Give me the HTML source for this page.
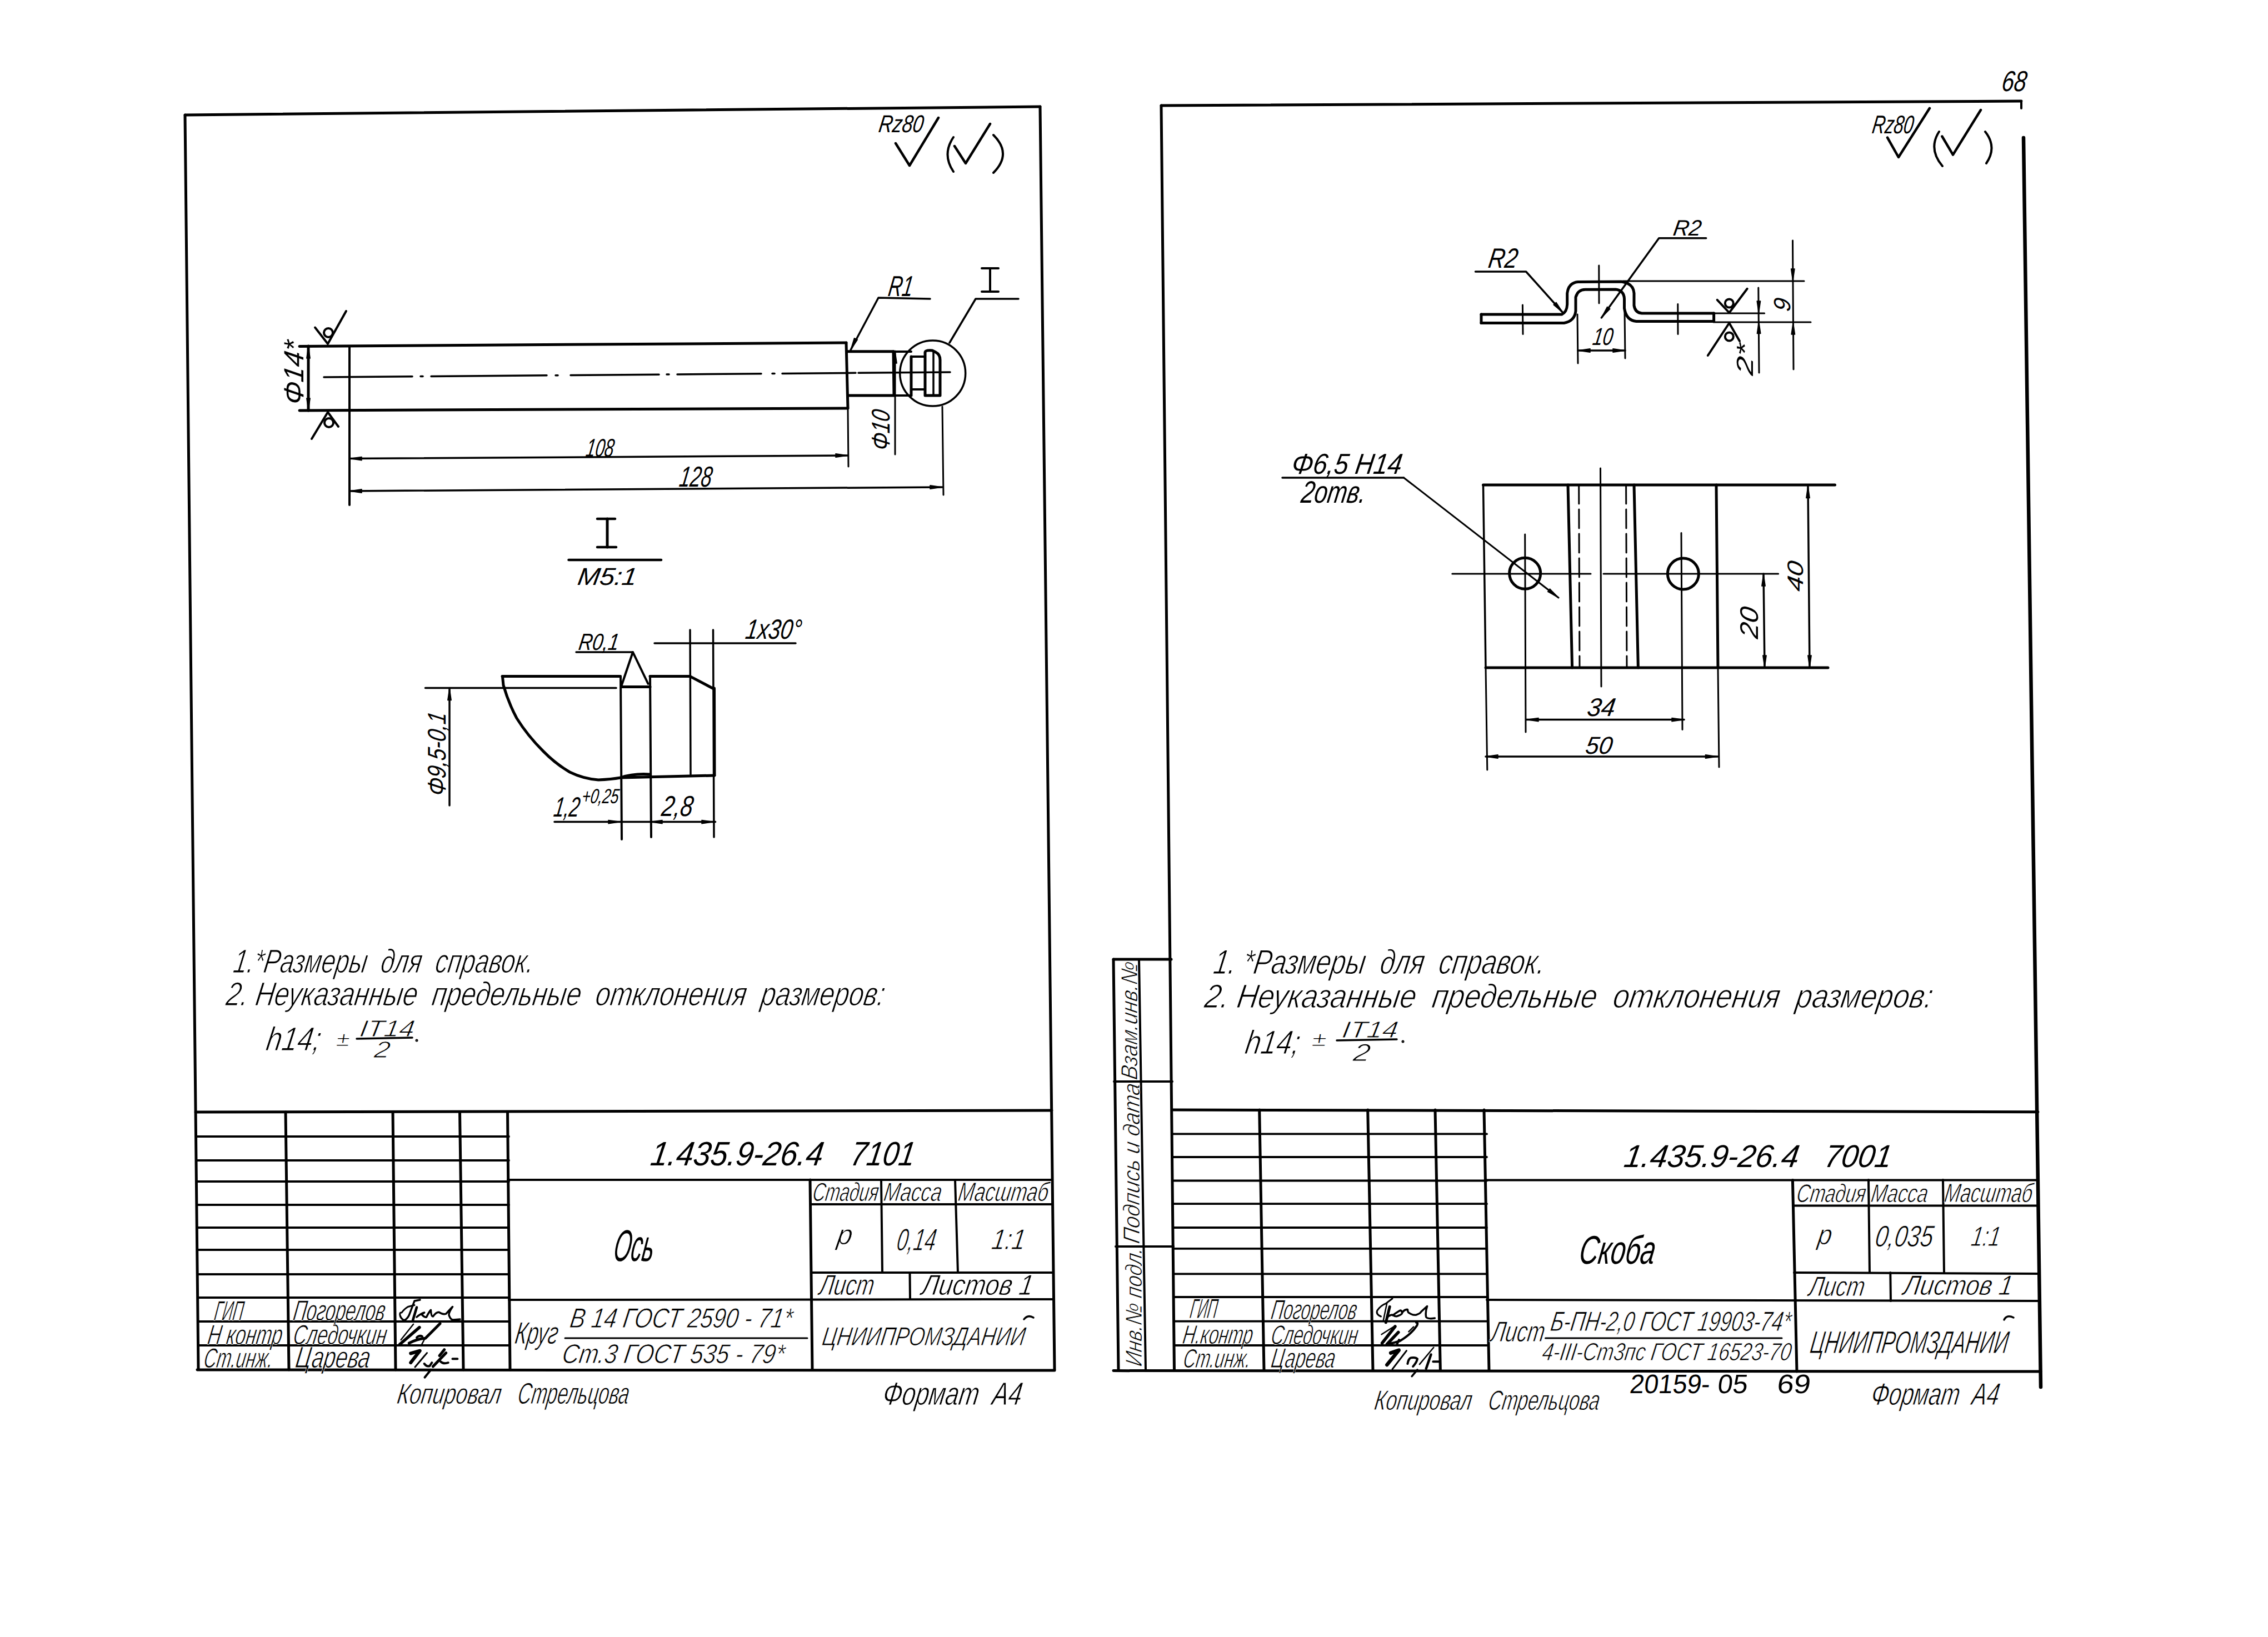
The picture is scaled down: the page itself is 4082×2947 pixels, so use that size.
<!DOCTYPE html>
<html><head><meta charset="utf-8"><style>
html,body{margin:0;padding:0;background:#fff;overflow:hidden;}
svg{display:block;}
text{stroke:none;paint-order:normal;font-family:"Liberation Sans",sans-serif;}
</style></head><body>
<svg width="4082" height="2947" viewBox="0 0 4082 2947">
<rect width="4082" height="2947" fill="#fff"/>
<g stroke="#000" stroke-linecap="round" stroke-linejoin="round" font-family="Liberation Sans, sans-serif" fill="#000">
<line x1="333" y1="207" x2="1872" y2="192" stroke-width="5"/>
<line x1="1872" y1="192" x2="1898" y2="2466" stroke-width="5"/>
<line x1="333" y1="207" x2="357" y2="2465" stroke-width="5"/>
<line x1="355" y1="2466" x2="1898" y2="2467" stroke-width="5"/>
<line x1="352" y1="2002" x2="1893" y2="1999" stroke-width="5"/>
<line x1="352.484" y1="2046" x2="916" y2="2046" stroke-width="3.8"/>
<line x1="352.957" y1="2089" x2="916" y2="2089" stroke-width="3.8"/>
<line x1="353.375" y1="2127" x2="916" y2="2127" stroke-width="3.8"/>
<line x1="353.837" y1="2169" x2="916" y2="2169" stroke-width="3.8"/>
<line x1="354.288" y1="2210" x2="916" y2="2210" stroke-width="3.8"/>
<line x1="354.728" y1="2250" x2="916" y2="2250" stroke-width="3.8"/>
<line x1="355.212" y1="2294" x2="916" y2="2294" stroke-width="3.8"/>
<line x1="355.674" y1="2336" x2="916" y2="2336" stroke-width="3.8"/>
<line x1="356.147" y1="2379" x2="916" y2="2379" stroke-width="3.8"/>
<line x1="356.62" y1="2422" x2="916" y2="2422" stroke-width="3.8"/>
<line x1="514" y1="2002" x2="520" y2="2466" stroke-width="5"/>
<line x1="707" y1="2002" x2="712" y2="2466" stroke-width="5"/>
<line x1="827.5" y1="2002" x2="834" y2="2466" stroke-width="5"/>
<line x1="913.5" y1="2002" x2="918" y2="2466" stroke-width="5"/>
<line x1="914" y1="2124" x2="1894" y2="2124" stroke-width="4"/>
<line x1="916" y1="2340" x2="1896" y2="2339" stroke-width="4"/>
<line x1="1458" y1="2124" x2="1462" y2="2466" stroke-width="5"/>
<line x1="1459" y1="2168" x2="1894" y2="2168" stroke-width="4"/>
<line x1="1586" y1="2124" x2="1588" y2="2291" stroke-width="4"/>
<line x1="1719" y1="2124" x2="1724" y2="2291" stroke-width="4"/>
<line x1="1460" y1="2291" x2="1896" y2="2291" stroke-width="4"/>
<line x1="1637.5" y1="2291" x2="1638" y2="2339" stroke-width="4"/>
<line x1="1017" y1="2409" x2="1453" y2="2409" stroke-width="3"/>
<line x1="539" y1="623.5" x2="1523" y2="617" stroke-width="5"/>
<line x1="539" y1="739" x2="1526" y2="735" stroke-width="5"/>
<line x1="555" y1="623" x2="555" y2="739" stroke-width="5"/>
<line x1="629" y1="623" x2="629" y2="909" stroke-width="4"/>
<line x1="1523" y1="617" x2="1526" y2="735" stroke-width="5"/>
<line x1="1526" y1="735" x2="1527" y2="840" stroke-width="3"/>
<line x1="583" y1="679.0" x2="742" y2="677.728" stroke-width="3.5"/>
<line x1="776" y1="677.456" x2="984" y2="675.792" stroke-width="3.5"/>
<line x1="1027" y1="675.448" x2="1186" y2="674.176" stroke-width="3.5"/>
<line x1="1219" y1="673.912" x2="1370" y2="672.704" stroke-width="3.5"/>
<line x1="1408" y1="672.4" x2="1540" y2="671.344" stroke-width="3.5"/>
<line x1="1545" y1="671.304" x2="1710" y2="669.984" stroke-width="3.5"/>
<line x1="757" y1="677.608" x2="761" y2="677.608" stroke-width="3.5"/>
<line x1="1000" y1="675.664" x2="1004" y2="675.664" stroke-width="3.5"/>
<line x1="1200" y1="674.064" x2="1204" y2="674.064" stroke-width="3.5"/>
<line x1="1390" y1="672.544" x2="1394" y2="672.544" stroke-width="3.5"/>
<line x1="1526" y1="632.7" x2="1608" y2="632.7" stroke-width="5"/>
<line x1="1526" y1="712" x2="1608" y2="712" stroke-width="5"/>
<line x1="1608" y1="632.7" x2="1609" y2="712" stroke-width="5"/>
<line x1="1608" y1="633" x2="1640" y2="633" stroke-width="4"/>
<line x1="1608" y1="712" x2="1640" y2="712" stroke-width="4"/>
<line x1="1640" y1="642" x2="1640" y2="712" stroke-width="5"/>
<line x1="1640" y1="642" x2="1665" y2="642" stroke-width="4"/>
<line x1="1640" y1="701" x2="1665" y2="701" stroke-width="4"/>
<path d="M1665,712 L1665,634 Q1666,630 1678,631 L1684,634 Q1692,638 1692,648 L1692,712 Z" stroke-width="5" fill="none"/>
<line x1="1680" y1="633" x2="1680" y2="712" stroke-width="3.5"/>
<circle cx="1678.7" cy="672" r="59" stroke-width="3.5" fill="none"/>
<line x1="629" y1="825.6" x2="1526" y2="820" stroke-width="3.5"/>
<line x1="629" y1="884" x2="1696" y2="877" stroke-width="3.5"/>
<line x1="1696" y1="732" x2="1698" y2="891" stroke-width="3"/>
<path d="M629,825.6 L651.0,822.4 L651.0,828.8 Z" stroke-width="1.5" fill="#000"/>
<path d="M1526,820 L1504.0,823.2 L1504.0,816.8 Z" stroke-width="1.5" fill="#000"/>
<path d="M629,884 L651.0,880.8 L651.0,887.2 Z" stroke-width="1.5" fill="#000"/>
<path d="M1696,877 L1674.0,880.2 L1674.0,873.8 Z" stroke-width="1.5" fill="#000"/>
<text transform="translate(1053,822) skewX(-9)" font-size="46" font-style="italic" textLength="50" lengthAdjust="spacingAndGlyphs">108</text>
<text transform="translate(1221,876) skewX(-9)" font-size="52" font-style="italic" textLength="58" lengthAdjust="spacingAndGlyphs">128</text>
<path d="M555,623 L558.2,645.0 L551.8,645.0 Z" stroke-width="1.5" fill="#000"/>
<path d="M555,739 L551.8,717.0 L558.2,717.0 Z" stroke-width="1.5" fill="#000"/>
<text transform="translate(546,730) rotate(-90) skewX(-9)" font-size="50" font-style="italic" textLength="114" lengthAdjust="spacingAndGlyphs">Φ14*</text>
<line x1="1611" y1="632" x2="1611" y2="818" stroke-width="3"/>
<path d="M1611,632 L1614.2,654.0 L1607.8,654.0 Z" stroke-width="1.5" fill="#000"/>
<text transform="translate(1601,812) rotate(-90) skewX(-9)" font-size="46" font-style="italic" textLength="72" lengthAdjust="spacingAndGlyphs">Φ10</text>
<polyline points="567,589.5 590,619 623,560" stroke-width="4" fill="none"/>
<circle cx="591" cy="599" r="8" stroke-width="4" fill="none"/>
<polyline points="561,790 590,742 609,768" stroke-width="4" fill="none"/>
<circle cx="592" cy="761" r="8" stroke-width="4" fill="none"/>
<polyline points="1531,630 1581,536 1674,538" stroke-width="3.5" fill="none"/>
<path d="M1531,630 L1537.5,608.7 L1543.3,611.5 Z" stroke-width="1.5" fill="#000"/>
<text transform="translate(1597,533) skewX(-9)" font-size="52" font-style="italic" textLength="44" lengthAdjust="spacingAndGlyphs">R1</text>
<polyline points="1709,617 1756,538 1833,538" stroke-width="3.5" fill="none"/>
<line x1="1767" y1="483" x2="1797" y2="483" stroke-width="4"/>
<line x1="1767" y1="525" x2="1797" y2="525" stroke-width="4"/>
<line x1="1782" y1="483" x2="1782" y2="525" stroke-width="4"/>
<text transform="translate(1580,238) skewX(-9)" font-size="44" font-style="italic" textLength="80" lengthAdjust="spacingAndGlyphs">Rz80</text>
<polyline points="1612,258 1637,298 1689,212" stroke-width="4.5" fill="none"/>
<path d="M1716,247 Q1695,278 1716,309" stroke-width="4" fill="none"/>
<polyline points="1718,263 1738,294 1782,223" stroke-width="4.5" fill="none"/>
<path d="M1788,243 Q1822,277 1788,311" stroke-width="4" fill="none"/>
<line x1="1075" y1="934" x2="1107" y2="934" stroke-width="4.5"/>
<line x1="1075" y1="985" x2="1109" y2="985" stroke-width="4.5"/>
<line x1="1093" y1="934" x2="1093" y2="985" stroke-width="5"/>
<line x1="1023.5" y1="1008" x2="1190" y2="1008" stroke-width="4.5"/>
<text transform="translate(1038,1053) skewX(-9)" font-size="44" font-style="italic" textLength="106" lengthAdjust="spacingAndGlyphs">М5:1</text>
<text transform="translate(1040,1170) skewX(-9)" font-size="42" font-style="italic" textLength="72" lengthAdjust="spacingAndGlyphs">R0,1</text>
<line x1="1037" y1="1174" x2="1139" y2="1174" stroke-width="3.5"/>
<polyline points="1119,1233 1139,1174 1166.5,1231" stroke-width="4" fill="none"/>
<line x1="1178" y1="1158" x2="1432" y2="1158" stroke-width="3.5"/>
<text transform="translate(1340,1150) skewX(-9)" font-size="50" font-style="italic" textLength="100" lengthAdjust="spacingAndGlyphs">1x30°</text>
<line x1="1242" y1="1134" x2="1243" y2="1394" stroke-width="3.5"/>
<line x1="1283.5" y1="1134" x2="1285" y2="1507" stroke-width="3.5"/>
<line x1="904" y1="1217.6" x2="1115" y2="1217.6" stroke-width="5"/>
<line x1="1117" y1="1217" x2="1119" y2="1511" stroke-width="4"/>
<line x1="1119" y1="1236.6" x2="1170" y2="1236.6" stroke-width="5"/>
<line x1="1170" y1="1217" x2="1172" y2="1507" stroke-width="4"/>
<line x1="1170" y1="1217.6" x2="1242" y2="1217.6" stroke-width="5"/>
<line x1="1242" y1="1217.6" x2="1283.5" y2="1239.5" stroke-width="5"/>
<line x1="1285.5" y1="1239" x2="1286" y2="1396" stroke-width="5"/>
<line x1="1117" y1="1400" x2="1286" y2="1396" stroke-width="5"/>
<path d="M904.4,1217.6 L906,1233.5 Q915,1265 930,1293 Q950,1325 978,1352.6 Q1000,1375 1025.5,1390 Q1050,1402 1077,1404 Q1100,1403 1117,1400 Q1140,1392 1170,1394" stroke-width="5" fill="none"/>
<line x1="765.5" y1="1238.6" x2="1109" y2="1238.6" stroke-width="3.5"/>
<line x1="809" y1="1238.6" x2="809" y2="1450" stroke-width="3.5"/>
<path d="M809,1238.6 L812.2,1260.6 L805.8,1260.6 Z" stroke-width="1.5" fill="#000"/>
<text transform="translate(802,1434) rotate(-90) skewX(-9)" font-size="46" font-style="italic" textLength="150" lengthAdjust="spacingAndGlyphs">Φ9,5-0,1</text>
<line x1="998" y1="1479.6" x2="1287.5" y2="1479.6" stroke-width="3.5"/>
<path d="M1117,1479.6 L1095.0,1482.8 L1095.0,1476.4 Z" stroke-width="1.5" fill="#000"/>
<path d="M1170,1479.6 L1192.0,1476.4 L1192.0,1482.8 Z" stroke-width="1.5" fill="#000"/>
<path d="M1285,1479.6 L1263.0,1482.8 L1263.0,1476.4 Z" stroke-width="1.5" fill="#000"/>
<text transform="translate(995,1470) skewX(-9)" font-size="50" font-style="italic" textLength="46" lengthAdjust="spacingAndGlyphs">1,2</text>
<text transform="translate(1046,1446) skewX(-9)" font-size="37" font-style="italic" textLength="66" lengthAdjust="spacingAndGlyphs">+0,25</text>
<text transform="translate(1189,1469) skewX(-9)" font-size="52" font-style="italic" textLength="56" lengthAdjust="spacingAndGlyphs">2,8</text>
<text transform="translate(418,1751) skewX(-9)" font-size="60" font-style="italic" style="stroke:#fff;stroke-width:1.2px" textLength="540" lengthAdjust="spacingAndGlyphs">1.*Размеры  для  справок.</text>
<text transform="translate(405,1810) skewX(-9)" font-size="60" font-style="italic" style="stroke:#fff;stroke-width:1.2px" textLength="1185" lengthAdjust="spacingAndGlyphs">2. Неуказанные  предельные  отклонения  размеров:</text>
<text transform="translate(477,1891) skewX(-9)" font-size="60" font-style="italic" style="stroke:#fff;stroke-width:1.2px" textLength="98" lengthAdjust="spacingAndGlyphs">h14;</text>
<text transform="translate(604,1883) skewX(-9)" font-size="36" font-style="italic" style="stroke:#fff;stroke-width:0.9px" textLength="24" lengthAdjust="spacingAndGlyphs">±</text>
<text transform="translate(646,1866) skewX(-9)" font-size="42" font-style="italic" style="stroke:#fff;stroke-width:1px" textLength="98" lengthAdjust="spacingAndGlyphs">IT14</text>
<line x1="642" y1="1870" x2="742" y2="1868" stroke-width="3.5"/>
<text transform="translate(672,1904) skewX(-9)" font-size="42" font-style="italic" style="stroke:#fff;stroke-width:1px" textLength="28" lengthAdjust="spacingAndGlyphs">2</text>
<circle cx="750" cy="1873" r="1.5" stroke-width="2" fill="none"/>
<text transform="translate(1169,2098) skewX(-9)" font-size="61" font-style="italic" textLength="310" lengthAdjust="spacingAndGlyphs">1.435.9-26.4</text>
<text transform="translate(1529,2098) skewX(-9)" font-size="61" font-style="italic" textLength="115" lengthAdjust="spacingAndGlyphs">7101</text>
<text transform="translate(1102,2270) skewX(-9)" font-size="80" font-style="italic" textLength="72" lengthAdjust="spacingAndGlyphs">Ось</text>
<text transform="translate(1461,2162) skewX(-9)" font-size="47" font-style="italic" style="stroke:#fff;stroke-width:0.9px" textLength="118" lengthAdjust="spacingAndGlyphs">Стадия</text>
<text transform="translate(1589,2162) skewX(-9)" font-size="47" font-style="italic" style="stroke:#fff;stroke-width:0.9px" textLength="104" lengthAdjust="spacingAndGlyphs">Масса</text>
<text transform="translate(1723,2162) skewX(-9)" font-size="48" font-style="italic" style="stroke:#fff;stroke-width:0.9px" textLength="162" lengthAdjust="spacingAndGlyphs">Масштаб</text>
<text transform="translate(1505,2240) skewX(-9)" font-size="50" font-style="italic" style="stroke:#fff;stroke-width:0.9px" textLength="27" lengthAdjust="spacingAndGlyphs">р</text>
<text transform="translate(1612,2251) skewX(-9)" font-size="56" font-style="italic" style="stroke:#fff;stroke-width:0.9px" textLength="70" lengthAdjust="spacingAndGlyphs">0,14</text>
<text transform="translate(1783,2249) skewX(-9)" font-size="52" font-style="italic" style="stroke:#fff;stroke-width:0.9px" textLength="60" lengthAdjust="spacingAndGlyphs">1:1</text>
<text transform="translate(1473,2331) skewX(-9)" font-size="52" font-style="italic" style="stroke:#fff;stroke-width:0.9px" textLength="98" lengthAdjust="spacingAndGlyphs">Лист</text>
<text transform="translate(1657,2331) skewX(-9)" font-size="52" font-style="italic" style="stroke:#fff;stroke-width:0.9px" textLength="200" lengthAdjust="spacingAndGlyphs">Листов 1</text>
<text transform="translate(925,2419) skewX(-9)" font-size="56" font-style="italic" style="stroke:#fff;stroke-width:0.9px" textLength="77" lengthAdjust="spacingAndGlyphs">Круг</text>
<text transform="translate(1024,2390) skewX(-9)" font-size="50" font-style="italic" style="stroke:#fff;stroke-width:0.9px" textLength="400" lengthAdjust="spacingAndGlyphs">В 14 ГОСТ 2590 - 71*</text>
<text transform="translate(1010,2454) skewX(-9)" font-size="49" font-style="italic" style="stroke:#fff;stroke-width:0.9px" textLength="400" lengthAdjust="spacingAndGlyphs">Ст.3 ГОСТ 535 - 79*</text>
<text transform="translate(1478,2422) skewX(-9)" font-size="47" font-style="italic" style="stroke:#fff;stroke-width:0.9px" textLength="365" lengthAdjust="spacingAndGlyphs">ЦНИИПРОМЗДАНИИ</text>
<path d="M1843,2375 Q1850,2366 1860,2372" stroke-width="3.5" fill="none"/>
<text transform="translate(384,2377) skewX(-9)" font-size="50" font-style="italic" style="stroke:#fff;stroke-width:0.9px" textLength="52" lengthAdjust="spacingAndGlyphs">ГИП</text>
<text transform="translate(372,2420) skewX(-9)" font-size="50" font-style="italic" style="stroke:#fff;stroke-width:0.9px" textLength="134" lengthAdjust="spacingAndGlyphs">Н контр</text>
<text transform="translate(365,2462) skewX(-9)" font-size="50" font-style="italic" style="stroke:#fff;stroke-width:0.9px" textLength="124" lengthAdjust="spacingAndGlyphs">Ст.инж.</text>
<text transform="translate(526,2377) skewX(-9)" font-size="52" font-style="italic" style="stroke:#fff;stroke-width:0.9px" textLength="165" lengthAdjust="spacingAndGlyphs">Погорелов</text>
<text transform="translate(526,2420) skewX(-9)" font-size="50" font-style="italic" style="stroke:#fff;stroke-width:0.9px" textLength="168" lengthAdjust="spacingAndGlyphs">Следочкин</text>
<text transform="translate(530,2462) skewX(-9)" font-size="54" font-style="italic" style="stroke:#fff;stroke-width:0.9px" textLength="134" lengthAdjust="spacingAndGlyphs">Царева</text>
<text transform="translate(713,2527) skewX(-9)" font-size="52" font-style="italic" style="stroke:#fff;stroke-width:0.9px" textLength="187" lengthAdjust="spacingAndGlyphs">Копировал</text>
<text transform="translate(930,2527) skewX(-9)" font-size="54" font-style="italic" style="stroke:#fff;stroke-width:0.9px" textLength="200" lengthAdjust="spacingAndGlyphs">Стрельцова</text>
<text transform="translate(1587,2529) skewX(-9)" font-size="58" font-style="italic" style="stroke:#fff;stroke-width:0.9px" textLength="250" lengthAdjust="spacingAndGlyphs">Формат  А4</text>
<path d="M720.6,2370 Q725,2378 729.4,2376 Q735,2372 737.3,2365 L746,2342 L756,2340" stroke-width="3.5" fill="none"/>
<path d="M720.6,2370 Q718,2362 723,2363 Q728,2356 734.3,2352.5 L746,2349.5" stroke-width="3" fill="none"/>
<path d="M743,2377 L750,2353.5" stroke-width="4.5" fill="none"/>
<path d="M750,2371 Q757,2365 763.7,2363 Q757,2367 759.7,2367 Q764,2372 767.6,2371 Q772,2362 775.4,2358.3 Q776,2370 779.3,2370 Q785,2362 790,2362.3 Q797,2367 802.8,2365.2 Q810,2357 814.5,2352.5 Q806,2365 808.6,2369 Q811,2376 816,2376 L828,2375" stroke-width="3.5" fill="none"/>
<path d="M719.7,2420 L754.9,2389.6" stroke-width="5.5" fill="none"/>
<path d="M736.3,2418 Q752,2410 765.6,2409.2 Q780,2395 792,2382.8" stroke-width="5" fill="none"/>
<path d="M721.6,2412 L744.1,2383.8" stroke-width="2.5" fill="none"/>
<path d="M750,2408 Q755,2403 760,2406" stroke-width="4" fill="none"/>
<path d="M757.8,2422.9 L765,2409" stroke-width="2.5" fill="none"/>
<path d="M739.2,2436.5 L755.8,2431.7 L739.2,2453.2" stroke-width="6" fill="none"/>
<path d="M747,2461 L768.5,2435.6" stroke-width="3" fill="none"/>
<path d="M763.7,2455 Q768,2461 773.4,2459 L777.3,2453.2" stroke-width="4" fill="none"/>
<path d="M779.3,2460 L802.8,2435.6" stroke-width="5" fill="none"/>
<path d="M791,2440.5 L799.8,2429.7" stroke-width="5" fill="none"/>
<path d="M793,2451.2 Q798,2456 806.7,2453.2" stroke-width="4" fill="none"/>
<path d="M814.5,2446.3 L823.3,2446.3" stroke-width="4" fill="none"/>
<path d="M764.6,2479.6 L775.4,2465.9" stroke-width="4" fill="none"/>
<line x1="2090" y1="190" x2="3638" y2="182" stroke-width="5"/>
<line x1="3638" y1="182" x2="3638" y2="195" stroke-width="4"/>
<line x1="3642" y1="248" x2="3673" y2="2497" stroke-width="6.5"/>
<line x1="2090" y1="190" x2="2113.5" y2="2467.6" stroke-width="5"/>
<line x1="2004" y1="2467.6" x2="3673" y2="2469" stroke-width="5"/>
<text transform="translate(3601,164) skewX(-9)" font-size="52" font-style="italic" textLength="44" lengthAdjust="spacingAndGlyphs">68</text>
<line x1="2004" y1="1727" x2="2013" y2="2466" stroke-width="5"/>
<line x1="2050" y1="1727" x2="2062" y2="2466" stroke-width="4"/>
<line x1="2004" y1="1727" x2="2108" y2="1727" stroke-width="5"/>
<line x1="2005" y1="1947" x2="2110" y2="1947" stroke-width="4"/>
<line x1="2008" y1="2244" x2="2112" y2="2244" stroke-width="4"/>
<text transform="translate(2047,1945) rotate(-90) skewX(-9)" font-size="42" font-style="italic" style="stroke:#fff;stroke-width:0.9px" textLength="212" lengthAdjust="spacingAndGlyphs">Взам.инв.№</text>
<text transform="translate(2051,2240) rotate(-90) skewX(-9)" font-size="42" font-style="italic" style="stroke:#fff;stroke-width:0.9px" textLength="288" lengthAdjust="spacingAndGlyphs">Подпись и дата</text>
<text transform="translate(2055,2461) rotate(-90) skewX(-9)" font-size="42" font-style="italic" style="stroke:#fff;stroke-width:0.9px" textLength="213" lengthAdjust="spacingAndGlyphs">Инв.№ подл.</text>
<line x1="2111" y1="1998" x2="3668" y2="2001.7" stroke-width="5"/>
<line x1="2111.217" y1="2041.4" x2="2676" y2="2041.4" stroke-width="3.8"/>
<line x1="2111.425" y1="2083" x2="2676" y2="2083" stroke-width="3.8"/>
<line x1="2111.6375" y1="2125.5" x2="2676" y2="2125.5" stroke-width="3.8"/>
<line x1="2111.846" y1="2167.2" x2="2676" y2="2167.2" stroke-width="3.8"/>
<line x1="2112.06" y1="2210" x2="2676" y2="2210" stroke-width="3.8"/>
<line x1="2112.2495" y1="2247.9" x2="2676" y2="2247.9" stroke-width="3.8"/>
<line x1="2112.4765" y1="2293.3" x2="2676" y2="2293.3" stroke-width="3.8"/>
<line x1="2112.685" y1="2335" x2="2676" y2="2335" stroke-width="3.8"/>
<line x1="2112.903" y1="2378.6" x2="2676" y2="2378.6" stroke-width="3.8"/>
<line x1="2113.12" y1="2422" x2="2676" y2="2422" stroke-width="3.8"/>
<line x1="2266.7" y1="1998" x2="2275" y2="2467.6" stroke-width="5"/>
<line x1="2461.7" y1="1998" x2="2471" y2="2467.6" stroke-width="5"/>
<line x1="2583" y1="1998" x2="2592.4" y2="2467.6" stroke-width="5"/>
<line x1="2671" y1="1998" x2="2680" y2="2467.6" stroke-width="5"/>
<line x1="2673" y1="2124.4" x2="3668" y2="2124.4" stroke-width="4"/>
<line x1="2676" y1="2340" x2="3670" y2="2342" stroke-width="4"/>
<line x1="3226.4" y1="2124.4" x2="3234" y2="2469" stroke-width="5"/>
<line x1="3227" y1="2170.6" x2="3668" y2="2170.6" stroke-width="4"/>
<line x1="3363" y1="2124" x2="3365" y2="2291" stroke-width="4"/>
<line x1="3497" y1="2124" x2="3499" y2="2291" stroke-width="4"/>
<line x1="3229" y1="2291" x2="3670" y2="2293" stroke-width="4"/>
<line x1="3402.3" y1="2291" x2="3403" y2="2342" stroke-width="4"/>
<line x1="2781.5" y1="2409" x2="3207" y2="2409" stroke-width="3"/>
<text transform="translate(2921,2101) skewX(-9)" font-size="57" font-style="italic" textLength="314" lengthAdjust="spacingAndGlyphs">1.435.9-26.4</text>
<text transform="translate(3282,2101) skewX(-9)" font-size="57" font-style="italic" textLength="120" lengthAdjust="spacingAndGlyphs">7001</text>
<text transform="translate(2840,2275) skewX(-9)" font-size="72" font-style="italic" textLength="136" lengthAdjust="spacingAndGlyphs">Скоба</text>
<text transform="translate(3232,2164) skewX(-9)" font-size="46" font-style="italic" style="stroke:#fff;stroke-width:0.9px" textLength="124" lengthAdjust="spacingAndGlyphs">Стадия</text>
<text transform="translate(3366,2164) skewX(-9)" font-size="46" font-style="italic" style="stroke:#fff;stroke-width:0.9px" textLength="102" lengthAdjust="spacingAndGlyphs">Масса</text>
<text transform="translate(3498,2164) skewX(-9)" font-size="48" font-style="italic" style="stroke:#fff;stroke-width:0.9px" textLength="158" lengthAdjust="spacingAndGlyphs">Масштаб</text>
<text transform="translate(3270,2240) skewX(-9)" font-size="50" font-style="italic" style="stroke:#fff;stroke-width:0.9px" textLength="25" lengthAdjust="spacingAndGlyphs">р</text>
<text transform="translate(3373,2244) skewX(-9)" font-size="54" font-style="italic" style="stroke:#fff;stroke-width:0.9px" textLength="104" lengthAdjust="spacingAndGlyphs">0,035</text>
<text transform="translate(3546,2243) skewX(-9)" font-size="50" font-style="italic" style="stroke:#fff;stroke-width:0.9px" textLength="52" lengthAdjust="spacingAndGlyphs">1:1</text>
<text transform="translate(3254,2333) skewX(-9)" font-size="50" font-style="italic" style="stroke:#fff;stroke-width:0.9px" textLength="100" lengthAdjust="spacingAndGlyphs">Лист</text>
<text transform="translate(3424,2331) skewX(-9)" font-size="50" font-style="italic" style="stroke:#fff;stroke-width:0.9px" textLength="196" lengthAdjust="spacingAndGlyphs">Листов 1</text>
<text transform="translate(2682,2415) skewX(-9)" font-size="52" font-style="italic" style="stroke:#fff;stroke-width:0.9px" textLength="96" lengthAdjust="spacingAndGlyphs">Лист</text>
<text transform="translate(2789,2396) skewX(-9)" font-size="50" font-style="italic" style="stroke:#fff;stroke-width:0.9px" textLength="432" lengthAdjust="spacingAndGlyphs">Б-ПН-2,0 ГОСТ 19903-74*</text>
<text transform="translate(2774,2449) skewX(-9)" font-size="45" font-style="italic" style="stroke:#fff;stroke-width:0.9px" textLength="448" lengthAdjust="spacingAndGlyphs">4-III-Ст3пс ГОСТ 16523-70</text>
<text transform="translate(3256,2436) skewX(-9)" font-size="57" font-style="italic" style="stroke:#fff;stroke-width:0.9px" textLength="356" lengthAdjust="spacingAndGlyphs">ЦНИИПРОМЗДАНИИ</text>
<path d="M3607,2376 Q3612,2366 3624,2372" stroke-width="3.5" fill="none"/>
<text transform="translate(2932,2508) skewX(-7)" font-size="48" font-style="normal" textLength="144" lengthAdjust="spacingAndGlyphs">20159-</text>
<text transform="translate(3090,2508) skewX(-7)" font-size="48" font-style="normal" textLength="54" lengthAdjust="spacingAndGlyphs">05</text>
<text transform="translate(3197,2508) skewX(-7)" font-size="48" font-style="normal" textLength="60" lengthAdjust="spacingAndGlyphs">69</text>
<text transform="translate(2140,2373) skewX(-9)" font-size="50" font-style="italic" style="stroke:#fff;stroke-width:0.9px" textLength="49" lengthAdjust="spacingAndGlyphs">ГИП</text>
<text transform="translate(2127,2419) skewX(-9)" font-size="48" font-style="italic" style="stroke:#fff;stroke-width:0.9px" textLength="126" lengthAdjust="spacingAndGlyphs">Н.контр</text>
<text transform="translate(2128,2462) skewX(-9)" font-size="48" font-style="italic" style="stroke:#fff;stroke-width:0.9px" textLength="121" lengthAdjust="spacingAndGlyphs">Ст.инж.</text>
<text transform="translate(2286,2375) skewX(-9)" font-size="50" font-style="italic" style="stroke:#fff;stroke-width:0.9px" textLength="154" lengthAdjust="spacingAndGlyphs">Погорелов</text>
<text transform="translate(2286,2420) skewX(-9)" font-size="49" font-style="italic" style="stroke:#fff;stroke-width:0.9px" textLength="156" lengthAdjust="spacingAndGlyphs">Следочкин</text>
<text transform="translate(2286,2462) skewX(-9)" font-size="50" font-style="italic" style="stroke:#fff;stroke-width:0.9px" textLength="115" lengthAdjust="spacingAndGlyphs">Царева</text>
<text transform="translate(2472,2538) skewX(-9)" font-size="50" font-style="italic" style="stroke:#fff;stroke-width:0.9px" textLength="175" lengthAdjust="spacingAndGlyphs">Копировал</text>
<text transform="translate(2677,2538) skewX(-9)" font-size="50" font-style="italic" style="stroke:#fff;stroke-width:0.9px" textLength="200" lengthAdjust="spacingAndGlyphs">Стрельцова</text>
<text transform="translate(3366,2529) skewX(-9)" font-size="56" font-style="italic" style="stroke:#fff;stroke-width:0.9px" textLength="230" lengthAdjust="spacingAndGlyphs">Формат  А4</text>
<path d="M2485.5,2370 Q2476,2366 2478.7,2359.3 Q2485,2350 2494.3,2346.6 L2506,2337.8" stroke-width="3" fill="none"/>
<path d="M2501.2,2352.5 L2494.3,2380.8" stroke-width="5" fill="none"/>
<path d="M2489.4,2378.9 L2496.3,2345.6" stroke-width="2.5" fill="none"/>
<path d="M2497.3,2371 Q2502,2367 2506,2367 Q2512,2371 2515.8,2369 Q2524,2366 2523.7,2363.2 Q2522,2358 2519.7,2359.3 Q2510,2365 2507,2368 M2523.7,2363 Q2528,2357 2533.4,2357.4 Q2534,2363 2535.4,2363.2 Q2542,2368 2549,2367 Q2556,2365 2557.9,2361.3 L2568.6,2351.5 Q2565,2362 2566.7,2371 Q2570,2375 2582.3,2373" stroke-width="3.5" fill="none"/>
<path d="M2486.5,2402.3 L2511,2386.7" stroke-width="2.5" fill="none"/>
<path d="M2487.5,2418 L2511,2388" stroke-width="5.5" fill="none"/>
<path d="M2496.3,2420 L2516.8,2398.4" stroke-width="5.5" fill="none"/>
<path d="M2496.3,2420 Q2508,2418 2519.7,2414 Q2540,2402 2550,2386.7 Q2553,2381 2549,2380.8" stroke-width="4" fill="none"/>
<path d="M2535.4,2397.4 L2544.2,2388.7" stroke-width="2.5" fill="none"/>
<path d="M2513.9,2421 L2518,2412" stroke-width="4" fill="none"/>
<path d="M2503.1,2435.6 L2517.8,2430.7 L2496.3,2457" stroke-width="6.5" fill="none"/>
<path d="M2506,2464.9 L2531.5,2431.7" stroke-width="3" fill="none"/>
<path d="M2533.4,2455.1 Q2535,2446 2539.3,2444.4 Q2548,2443 2551,2446.3 Q2550,2452 2543.2,2460" stroke-width="4" fill="none"/>
<path d="M2554.9,2456.1 L2580.3,2425.8" stroke-width="2.5" fill="none"/>
<path d="M2566.7,2463.9 L2575.5,2438.5" stroke-width="4.5" fill="none"/>
<path d="M2579.4,2451.2 L2590,2451.2" stroke-width="4" fill="none"/>
<path d="M2541.2,2477.6 L2551,2465.9" stroke-width="3.5" fill="none"/>
<text transform="translate(2182,1753) skewX(-9)" font-size="62" font-style="italic" style="stroke:#fff;stroke-width:1.2px" textLength="596" lengthAdjust="spacingAndGlyphs">1. *Размеры  для  справок.</text>
<text transform="translate(2166,1814) skewX(-9)" font-size="60" font-style="italic" style="stroke:#fff;stroke-width:1.2px" textLength="1310" lengthAdjust="spacingAndGlyphs">2. Неуказанные  предельные  отклонения  размеров:</text>
<text transform="translate(2239,1897) skewX(-9)" font-size="60" font-style="italic" style="stroke:#fff;stroke-width:1.2px" textLength="98" lengthAdjust="spacingAndGlyphs">h14;</text>
<text transform="translate(2360,1883) skewX(-9)" font-size="36" font-style="italic" style="stroke:#fff;stroke-width:0.9px" textLength="26" lengthAdjust="spacingAndGlyphs">±</text>
<text transform="translate(2414,1868) skewX(-9)" font-size="42" font-style="italic" style="stroke:#fff;stroke-width:1px" textLength="100" lengthAdjust="spacingAndGlyphs">IT14</text>
<line x1="2406" y1="1873" x2="2514" y2="1871" stroke-width="3.5"/>
<text transform="translate(2434,1910) skewX(-9)" font-size="44" font-style="italic" style="stroke:#fff;stroke-width:1px" textLength="30" lengthAdjust="spacingAndGlyphs">2</text>
<circle cx="2525" cy="1875" r="1.5" stroke-width="2" fill="none"/>
<text transform="translate(3368,240) skewX(-9)" font-size="46" font-style="italic" textLength="74" lengthAdjust="spacingAndGlyphs">Rz80</text>
<polyline points="3397,247.7 3417,283 3473,194.8" stroke-width="4.5" fill="none"/>
<path d="M3490,237 Q3470,268 3496,299" stroke-width="4" fill="none"/>
<polyline points="3495.4,245.5 3515,278.6 3565,198" stroke-width="4.5" fill="none"/>
<path d="M3573,237 Q3595,265 3575,294" stroke-width="4" fill="none"/>
<path d="M2666,566 L2811,566 Q2820,562 2820.7,548 L2820.7,528 Q2823,509 2840,507.4 L2918,507 Q2940,510 2941,528 L2941,550 Q2943,563 2955,564 L3084.6,564" stroke-width="5" fill="none"/>
<path d="M2666,581.5 L2815,581.5 Q2834,578 2836,560 L2836,535 Q2840,521.3 2853,521.3 L2908,521 Q2923,523 2923.5,538 L2923.5,555 Q2927,577 2945,578.4 L3084.6,578.4" stroke-width="5" fill="none"/>
<line x1="2666" y1="566" x2="2666" y2="581.5" stroke-width="5"/>
<line x1="3084.6" y1="564" x2="3084.6" y2="578.4" stroke-width="5"/>
<line x1="2921" y1="505.9" x2="3247" y2="505.9" stroke-width="3"/>
<line x1="3084" y1="580" x2="3259" y2="580" stroke-width="3"/>
<line x1="3084" y1="564" x2="3175.6" y2="564" stroke-width="3"/>
<line x1="3226.5" y1="433" x2="3228" y2="665" stroke-width="3"/>
<line x1="3164.8" y1="518" x2="3166" y2="671" stroke-width="3"/>
<path d="M3226.8,505.9 L3223.6,483.9 L3230.0,483.9 Z" stroke-width="1.5" fill="#000"/>
<path d="M3227.3,580 L3230.5,602.0 L3224.1,602.0 Z" stroke-width="1.5" fill="#000"/>
<path d="M3165.4,564 L3162.2,542.0 L3168.6,542.0 Z" stroke-width="1.5" fill="#000"/>
<path d="M3165.6,578.4 L3168.8,600.4 L3162.4,600.4 Z" stroke-width="1.5" fill="#000"/>
<text transform="translate(3222,562) rotate(-90) skewX(-9)" font-size="42" font-style="italic">9</text>
<text transform="translate(3155,677) rotate(-90) skewX(-9)" font-size="42" font-style="italic" textLength="56" lengthAdjust="spacingAndGlyphs">2*</text>
<polyline points="3090.7,539.8 3112.3,563 3144.7,519.8" stroke-width="4" fill="none"/>
<circle cx="3112.3" cy="546" r="7.5" stroke-width="4" fill="none"/>
<polyline points="3073.8,640 3112.3,581.5 3131,614" stroke-width="4" fill="none"/>
<circle cx="3112.3" cy="606" r="7.5" stroke-width="4" fill="none"/>
<line x1="2740.4" y1="549" x2="2741" y2="601.5" stroke-width="3"/>
<line x1="2877.8" y1="478" x2="2878" y2="546" stroke-width="3"/>
<line x1="3019.8" y1="547.5" x2="3020" y2="601.5" stroke-width="3"/>
<line x1="2839" y1="566" x2="2840" y2="654" stroke-width="3"/>
<line x1="2924" y1="560" x2="2925" y2="645" stroke-width="3"/>
<line x1="2840" y1="631" x2="2925" y2="631" stroke-width="3.5"/>
<path d="M2840,631 L2862.0,627.8 L2862.0,634.2 Z" stroke-width="1.5" fill="#000"/>
<path d="M2925,631 L2903.0,634.2 L2903.0,627.8 Z" stroke-width="1.5" fill="#000"/>
<text transform="translate(2865,621) skewX(-9)" font-size="44" font-style="italic" textLength="36" lengthAdjust="spacingAndGlyphs">10</text>
<text transform="translate(2677,482) skewX(-9)" font-size="50" font-style="italic" textLength="52" lengthAdjust="spacingAndGlyphs">R2</text>
<polyline points="2655.5,489 2746.6,489 2813,563" stroke-width="3.5" fill="none"/>
<path d="M2813,563 L2796.1,548.6 L2800.9,544.4 Z" stroke-width="1.5" fill="#000"/>
<text transform="translate(3010,424) skewX(-9)" font-size="40" font-style="italic" textLength="50" lengthAdjust="spacingAndGlyphs">R2</text>
<polyline points="3070.7,428.7 2985.8,428.7 2882.4,572" stroke-width="3.5" fill="none"/>
<path d="M2882.4,572 L2892.7,552.3 L2897.9,556.1 Z" stroke-width="1.5" fill="#000"/>
<line x1="2669.5" y1="873" x2="3302.5" y2="873" stroke-width="5"/>
<line x1="2674" y1="1202" x2="3290" y2="1202" stroke-width="5"/>
<line x1="2669.5" y1="873" x2="2674" y2="1202" stroke-width="3.5"/>
<line x1="2674" y1="1202" x2="2676.8" y2="1386" stroke-width="3"/>
<line x1="3089" y1="873" x2="3092" y2="1202" stroke-width="5"/>
<line x1="3092" y1="1202" x2="3094" y2="1381" stroke-width="3"/>
<line x1="2822" y1="873" x2="2829.6" y2="1202" stroke-width="5"/>
<line x1="2941" y1="873" x2="2948.4" y2="1202" stroke-width="5"/>
<g stroke-dasharray="34,10">
<line x1="2841.7" y1="873" x2="2843" y2="1202" stroke-width="3"/>
<line x1="2926.6" y1="873" x2="2928" y2="1202" stroke-width="3"/>
</g>
<line x1="2880.5" y1="843" x2="2882" y2="1236" stroke-width="3"/>
<line x1="2613.8" y1="1033" x2="2863" y2="1033" stroke-width="3"/>
<line x1="2886" y1="1033" x2="3200.6" y2="1033" stroke-width="3"/>
<line x1="2744.7" y1="962" x2="2746" y2="1318" stroke-width="3"/>
<line x1="3026" y1="959.5" x2="3028" y2="1313.5" stroke-width="3"/>
<circle cx="2744.7" cy="1032.2" r="28" stroke-width="5" fill="none"/>
<circle cx="3029.4" cy="1033" r="28" stroke-width="5" fill="none"/>
<line x1="2747" y1="1295.6" x2="3031" y2="1295.6" stroke-width="3.5"/>
<line x1="2674" y1="1362" x2="3091.5" y2="1362" stroke-width="3.5"/>
<path d="M2747,1295.6 L2769.0,1292.4 L2769.0,1298.8 Z" stroke-width="1.5" fill="#000"/>
<path d="M3031,1295.6 L3009.0,1298.8 L3009.0,1292.4 Z" stroke-width="1.5" fill="#000"/>
<path d="M2674,1362 L2696.0,1358.8 L2696.0,1365.2 Z" stroke-width="1.5" fill="#000"/>
<path d="M3091.5,1362 L3069.5,1365.2 L3069.5,1358.8 Z" stroke-width="1.5" fill="#000"/>
<text transform="translate(2855,1289) skewX(-9)" font-size="46" font-style="italic" textLength="50" lengthAdjust="spacingAndGlyphs">34</text>
<text transform="translate(2852,1357) skewX(-9)" font-size="44" font-style="italic" textLength="48" lengthAdjust="spacingAndGlyphs">50</text>
<line x1="3174" y1="1033" x2="3176" y2="1202" stroke-width="3.5"/>
<line x1="3254" y1="874.6" x2="3257" y2="1202" stroke-width="3.5"/>
<path d="M3174,1033 L3177.2,1055.0 L3170.8,1055.0 Z" stroke-width="1.5" fill="#000"/>
<path d="M3176,1202 L3172.8,1180.0 L3179.2,1180.0 Z" stroke-width="1.5" fill="#000"/>
<path d="M3254,874.6 L3257.2,896.6 L3250.8,896.6 Z" stroke-width="1.5" fill="#000"/>
<path d="M3257,1202 L3253.8,1180.0 L3260.2,1180.0 Z" stroke-width="1.5" fill="#000"/>
<text transform="translate(3164,1151) rotate(-90) skewX(-9)" font-size="46" font-style="italic" textLength="56" lengthAdjust="spacingAndGlyphs">20</text>
<text transform="translate(3245,1066) rotate(-90) skewX(-9)" font-size="40" font-style="italic" textLength="54" lengthAdjust="spacingAndGlyphs">40</text>
<text transform="translate(2323,853) skewX(-9)" font-size="52" font-style="italic" textLength="198" lengthAdjust="spacingAndGlyphs">Φ6,5 H14</text>
<line x1="2308" y1="860" x2="2526.5" y2="860" stroke-width="3.5"/>
<text transform="translate(2340,905) skewX(-9)" font-size="56" font-style="italic" textLength="116" lengthAdjust="spacingAndGlyphs">2отв.</text>
<polyline points="2526.5,860 2805,1076" stroke-width="3" fill="none"/>
<path d="M2805,1076 L2785.6,1065.1 L2789.5,1060.0 Z" stroke-width="1.5" fill="#000"/>
</g>
</svg>
</body></html>
